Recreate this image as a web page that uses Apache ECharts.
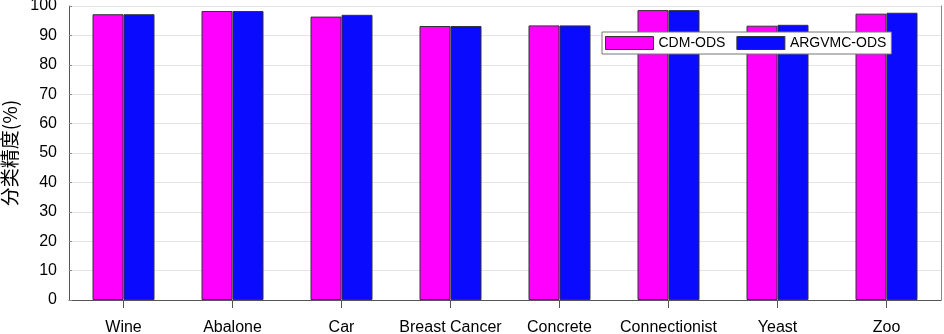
<!DOCTYPE html>
<html>
<head>
<meta charset="utf-8">
<script src="https://cdn.jsdelivr.net/npm/echarts@6/dist/echarts.min.js"></script>
<style>html,body{margin:0;padding:0;background:#fff}#c{width:944px;height:334px}</style>
</head>
<body>
<div id="c"></div>
<script>
const categories = ['Wine','Abalone','Car','Breast Cancer','Concrete','Connectionist','Yeast','Zoo'];
const cdmOds = [97.2, 98.3, 96.4, 93.2, 93.4, 98.6, 93.3, 97.4];
const argvmcOds = [97.2, 98.3, 97.0, 93.2, 93.4, 98.6, 93.6, 97.7];
const seriesNames = ['CDM-ODS','ARGVMC-ODS'];
const yAxisTitle = '分类精度(%)';

const chart = echarts.init(document.getElementById('c'), null, {renderer:'canvas'});
const font = 'Liberation Sans, Arial, sans-serif';
chart.setOption({
  animation: false,
  backgroundColor: '#fff',
  grid: {left: 69, right: 3, top: 6, bottom: 34, containLabel: false, outerBoundsMode: 'none'},
  legend: {
    left: 602, top: 32,
    icon: 'rect',
    itemWidth: 48, itemHeight: 13, itemGap: 11,
    padding: [4, 5, 4, 3],
    borderColor: '#777', borderWidth: 1, backgroundColor: '#fff',
    textStyle: {fontFamily: font, fontSize: 14, color: '#000'},
    data: seriesNames.map(n => ({name: n, itemStyle: {borderColor: '#333', borderWidth: 1}}))
  },
  xAxis: {
    type: 'category', data: categories,
    axisLine: {lineStyle: {color: '#555', width: 1}},
    axisTick: {show: true, alignWithLabel: true, inside: false, length: 8, lineStyle: {color: '#555'}},
    axisLabel: {fontFamily: font, fontSize: 16, color: '#000', margin: 20, interval: 0}
  },
  yAxis: [{
    type: 'value', min: 0, max: 100, interval: 10,
    name: yAxisTitle, nameLocation: 'middle', nameGap: 44, nameRotate: 90,
    nameTextStyle: {fontFamily: 'Noto Sans CJK SC, sans-serif', fontSize: 19, color: '#000', padding: [0, 0, 0, 0]},
    axisLine: {show: true, lineStyle: {color: '#555', width: 1}},
    axisTick: {show: true, inside: true, length: 3, lineStyle: {color: '#888'}},
    axisLabel: {fontFamily: font, fontSize: 16, color: '#000', margin: 12},
    splitLine: {show: true, lineStyle: {color: '#e4e4e4', width: 1}}
  }, {
    type: 'value', min: 0, max: 100, interval: 10, position: 'right',
    axisLine: {show: true, lineStyle: {color: '#888', width: 1}},
    axisTick: {show: false}, axisLabel: {show: false}, splitLine: {show: false}
  }],
  series: [{
    name: seriesNames[0], type: 'bar', data: cdmOds, barWidth: 31, barGap: '0%',
    itemStyle: {color: '#ff00ff', borderColor: '#333', borderWidth: 1}
  }, {
    name: seriesNames[1], type: 'bar', data: argvmcOds, barWidth: 31, barGap: '0%',
    itemStyle: {color: '#0a0aff', borderColor: '#333', borderWidth: 1}
  }]
});
</script>
</body>
</html>
